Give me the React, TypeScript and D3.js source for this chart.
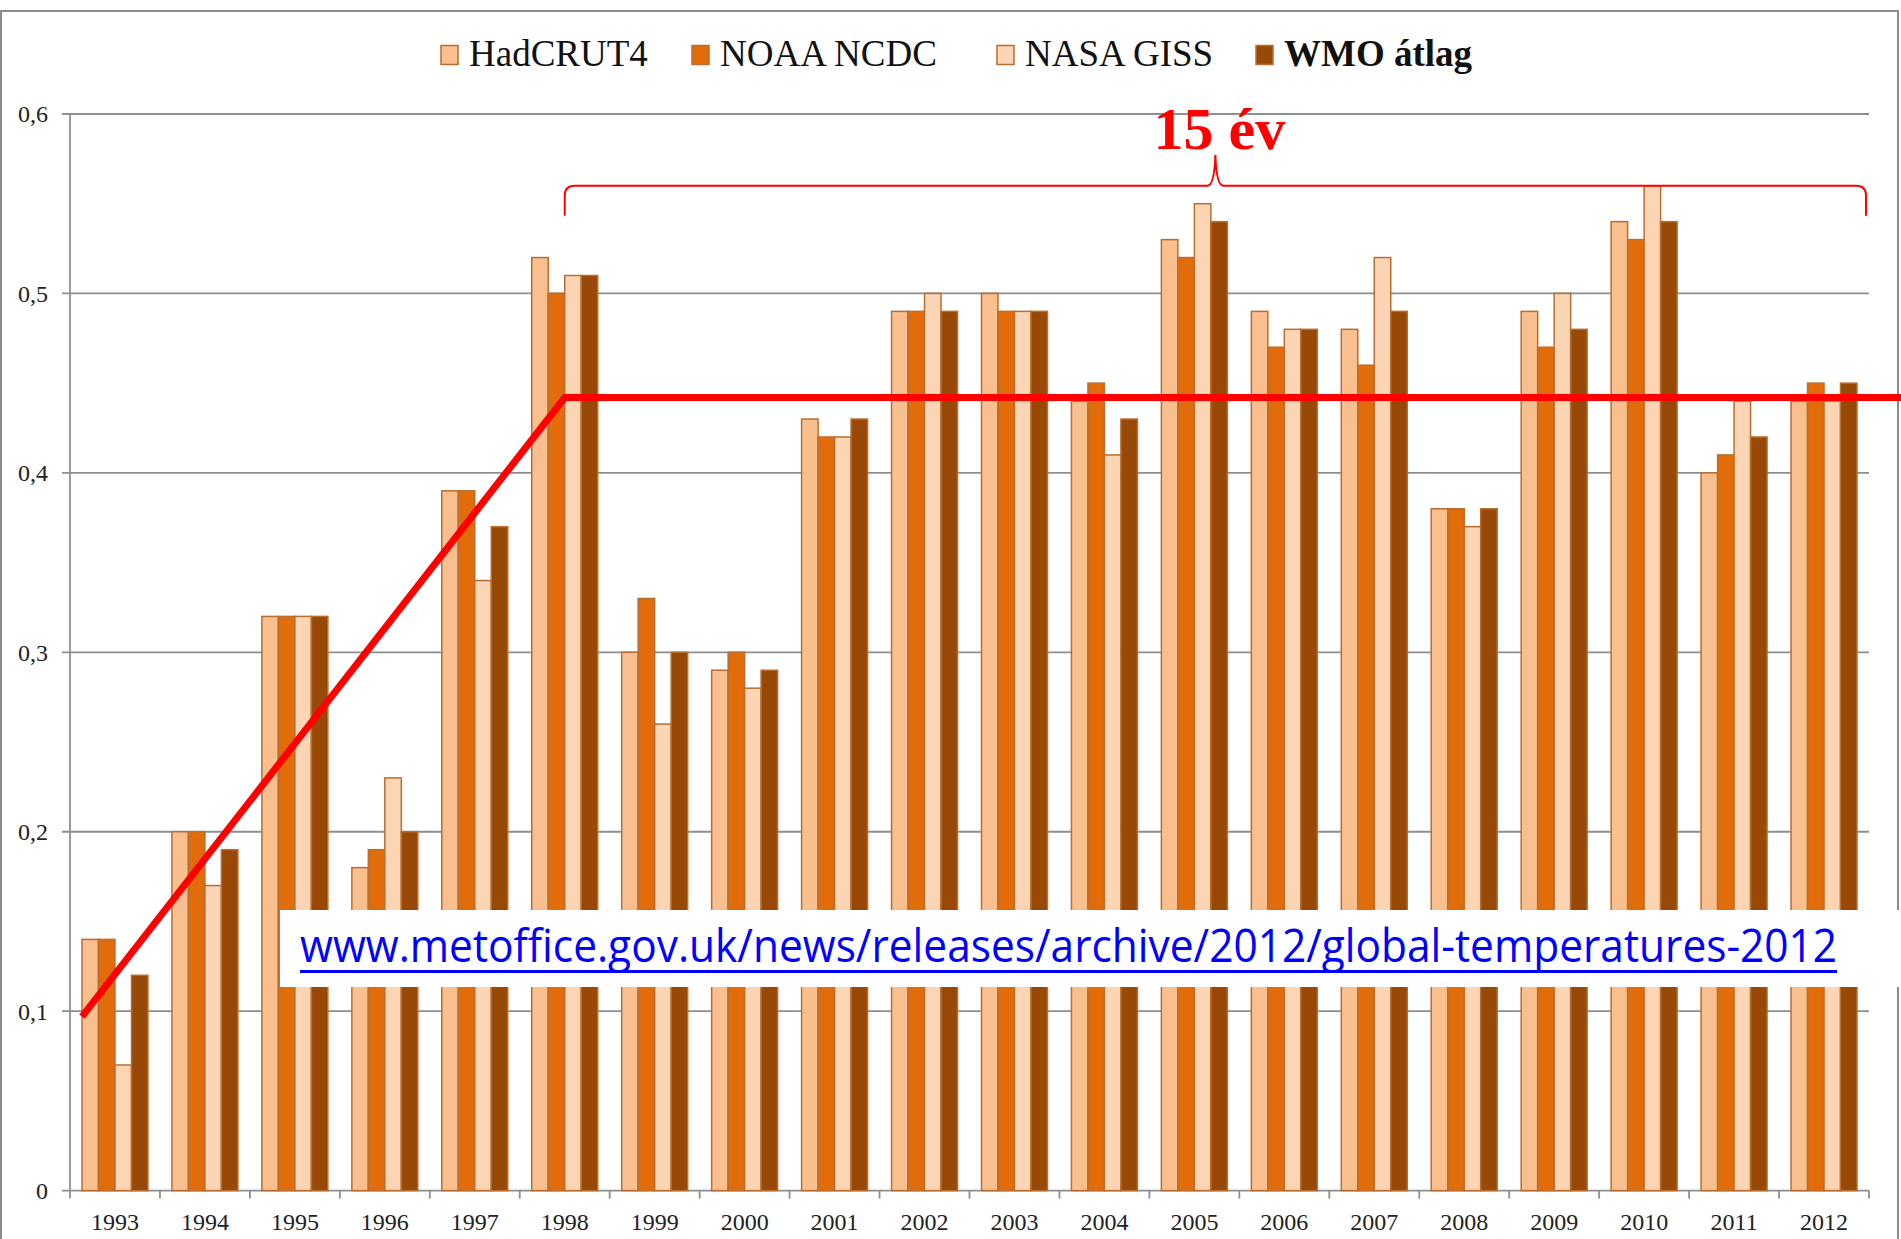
import { useLayoutEffect, useRef } from 'react'
import * as d3 from 'd3'

const years = ['1993', '1994', '1995', '1996', '1997', '1998', '1999', '2000', '2001', '2002',
    '2003', '2004', '2005', '2006', '2007', '2008', '2009', '2010', '2011', '2012']
const seriesNames = ['HadCRUT4', 'NOAA NCDC', 'NASA GISS', 'WMO átlag']
const hadcrut4 = [0.14, 0.20, 0.32, 0.18, 0.39, 0.52, 0.30, 0.29, 0.43, 0.49,
    0.50, 0.44, 0.53, 0.49, 0.48, 0.38, 0.49, 0.54, 0.40, 0.44]
const noaaNcdc = [0.14, 0.20, 0.32, 0.19, 0.39, 0.50, 0.33, 0.30, 0.42, 0.49,
    0.49, 0.45, 0.52, 0.47, 0.46, 0.38, 0.47, 0.53, 0.41, 0.45]
const nasaGiss = [0.07, 0.17, 0.32, 0.23, 0.34, 0.51, 0.26, 0.28, 0.42, 0.50,
    0.49, 0.41, 0.55, 0.48, 0.52, 0.37, 0.50, 0.56, 0.44, 0.44]
const wmoAvg = [0.12, 0.19, 0.32, 0.20, 0.37, 0.51, 0.30, 0.29, 0.43, 0.49,
    0.49, 0.43, 0.54, 0.48, 0.49, 0.38, 0.48, 0.54, 0.42, 0.45]
const yTicks = [0, 0.1, 0.2, 0.3, 0.4, 0.5, 0.6]
// red "pause" annotation: rise 1993 -> 1998, then flat
const trendValues = [0.097, 0.442, 0.442]
const braceValue = 0.56
const braceLabel = '15 év'
const sourceUrl = 'www.metoffice.gov.uk/news/releases/archive/2012/global-temperatures-2012'

const colors = ['#F9BF8F', '#E36C0A', '#FCD5B5', '#984807']
const W = 1901, H = 1239
const serif = '"Liberation Serif", "Times New Roman", serif'

export default function App() {
    const urlRef = useRef<SVGGElement>(null)
    const allSeries = [hadcrut4, noaaNcdc, nasaGiss, wmoAvg]

    const x0 = d3.scaleBand<string>().domain(years).range([70, 1869])
    const x1 = d3.scaleBand<string>().domain(seriesNames).range([0, x0.bandwidth()]).paddingOuter(0.727)
    const y = d3.scaleLinear().domain([0, 0.6]).range([1190.6, 114])
    const fmt = (v: number) => (v === 0 ? '0' : d3.format('.1f')(v).replace('.', ','))

    // squeeze the url horizontally so it spans the same width as the original (narrow Calibri)
    const urlWidth = 1537
    useLayoutEffect(() => {
        const g = urlRef.current
        if (!g) return
        const t = g.querySelector('text') as SVGTextElement
        const natural = t.getComputedTextLength()
        g.setAttribute('transform', `translate(300,962) scale(${urlWidth / natural},1)`)
    }, [])

    // trend line points
    const trendPts: [number, number][] = [
        [x0('1993')! + x1(seriesNames[0])!, y(trendValues[0])],
        [x0('1998')! + x0.bandwidth() / 2, y(trendValues[1])],
        [W, y(trendValues[2])],
    ]

    // brace from 1998 centre to plot end
    const bL = x0('1998')! + x0.bandwidth() / 2
    const bR = 1866
    const bM = (bL + bR) / 2
    const by = y(braceValue)
    const tip = 30, peak = 31, r = 10
    const bracePath = `M${bL},${by + tip} L${bL},${by + r} Q${bL},${by} ${bL + r},${by}`
        + ` L${bM - 8},${by} Q${bM - 1},${by} ${bM},${by - peak}`
        + ` Q${bM + 1},${by} ${bM + 8},${by} L${bR - r},${by} Q${bR},${by} ${bR},${by + r} L${bR},${by + tip}`

    const legendX = [441, 692, 997, 1256]

    return (
        <div style={{ position: 'absolute', left: 0, top: 0 }}>
            <svg width={W} height={H} style={{ display: 'block', background: '#fff' }}>
                <rect x={1} y={11} width={1897} height={H + 10} fill="#fff" stroke="#8c8c8c" strokeWidth={2} />

                {/* gridlines + y labels */}
                {yTicks.map(t => (
                    <g key={t}>
                        <line x1={62} x2={1869} y1={y(t)} y2={y(t)} stroke="#8e8e8e" strokeWidth={1.8} />
                        <text x={48} y={y(t)} dy="0.35em" textAnchor="end" fontFamily={serif} fontSize={24} fill="#222">
                            {fmt(t)}
                        </text>
                    </g>
                ))}
                <line x1={70} x2={70} y1={y(0.6)} y2={y(0)} stroke="#8e8e8e" strokeWidth={1.8} />

                {/* x ticks and labels */}
                {years.map(yr => (
                    <g key={yr}>
                        <line x1={x0(yr)!} x2={x0(yr)!} y1={y(0)} y2={y(0) + 8} stroke="#8e8e8e" strokeWidth={1.8} />
                        <text x={x0(yr)! + x0.bandwidth() / 2} y={1230} textAnchor="middle" fontFamily={serif} fontSize={24} fill="#222">
                            {yr}
                        </text>
                    </g>
                ))}
                <line x1={1869} x2={1869} y1={y(0)} y2={y(0) + 8} stroke="#8e8e8e" strokeWidth={1.8} />

                {/* bars */}
                {allSeries.map((vals, si) => (
                    <g key={si}>
                        {vals.map((v, i) => (
                            <rect key={i}
                                x={x0(years[i])! + x1(seriesNames[si])!}
                                y={y(v)}
                                width={x1.bandwidth()}
                                height={y(0) - y(v)}
                                fill={colors[si]}
                                stroke="#B86E30"
                                strokeWidth={1.5} />
                        ))}
                    </g>
                ))}

                {/* legend */}
                {seriesNames.map((s, i) => (
                    <g key={s}>
                        <rect x={legendX[i]} y={45.5} width={17} height={19} fill={colors[i]} stroke="#B86E30" strokeWidth={1.5} />
                        <text x={legendX[i] + 28} y={66} fontFamily={serif} fontSize={37}
                            fontWeight={i === 3 ? 'bold' : 'normal'} fill="#111">{s}</text>
                    </g>
                ))}

                {/* source box */}
                <rect x={280} y={910} width={1619} height={77} fill="#fff" />
                <g ref={urlRef} transform="translate(300,962) scale(0.9,1)">
                    <text x={0} y={0} fontFamily='"Open Sans", "Noto Sans", sans-serif' fontSize={46}
                        fill="#0000FF">{sourceUrl}</text>
                </g>
                <line x1={300} x2={300 + urlWidth} y1={971.5} y2={971.5} stroke="#0000FF" strokeWidth={3} />

                {/* trend line */}
                <path d={d3.line()(trendPts)!} fill="none" stroke="#FF0000" strokeWidth={7} />

                {/* brace + label */}
                <path d={bracePath} fill="none" stroke="#FF0000" strokeWidth={2} />
                <text x={bM + 4} y={149} textAnchor="middle" fontFamily={serif} fontSize={60}
                    fontWeight="bold" fill="#FF0000">{braceLabel}</text>
            </svg>
        </div>
    )
}
